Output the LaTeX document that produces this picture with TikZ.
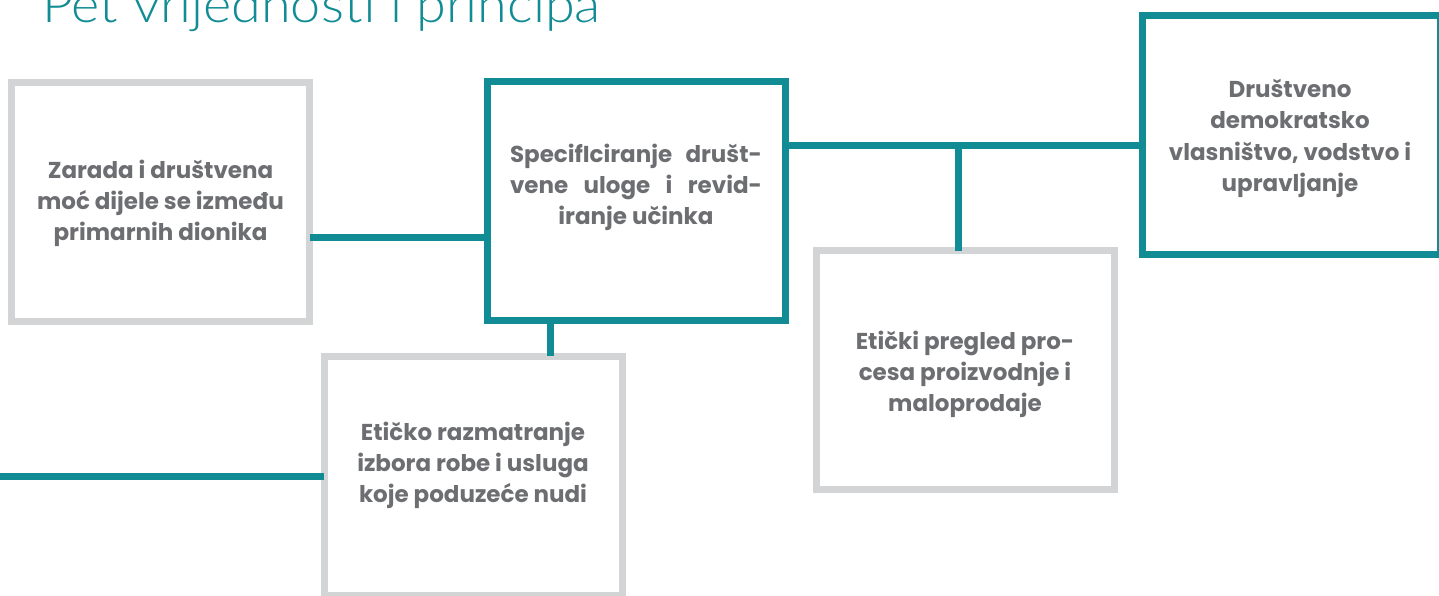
\documentclass[tikz,border=0pt]{standalone}
\usepackage{fontspec}
\IfFontExistsTF{Poppins Bold}{\newfontfamily\boxfont{Poppins Bold}}{\newfontfamily\boxfont{Poppins}[UprightFont=*SemiBold]}
\IfFontExistsTF{Lato Light}{\newfontfamily\titlefont{Lato Light}}{\IfFontExistsTF{Fira Sans Light}{\newfontfamily\titlefont{Fira Sans Light}}{\newfontfamily\titlefont{Lato}}}
\definecolor{teal1}{HTML}{128C94}
\definecolor{boxgray}{HTML}{D3D4D6}
\definecolor{txtgray}{HTML}{6D6E71}
\tikzset{
  box/.style={draw, line width=7pt, minimum width=298pt, minimum height=239pt, inner sep=0pt, outer sep=0pt, fill=white},
  graybox/.style={box, draw=boxgray},
  tealbox/.style={box, draw=teal1},
  link/.style={draw=teal1, line width=7pt},
  label/.style={font=\boxfont\fontsize{23}{31}\selectfont, text=txtgray, align=center, inner sep=0pt, anchor=base}
}
\begin{document}
\begin{tikzpicture}[x=1pt,y=-1pt]
\useasboundingbox (0,0) rectangle (1439,595);
\clip (0,0) rectangle (1439,595);
% title
\node[anchor=base west, inner sep=0pt, text=teal1, font=\titlefont\fontsize{50}{56}\selectfont] (title) at (42,22) {\scalebox{1.08}[1]{Pet vrijednosti i principa}};
% connector end points
\coordinate (jA) at (313,237);
\coordinate (jB) at (484,237);
\coordinate (hL) at (789,145);
\coordinate (hR) at (1142,145);
\coordinate (hM) at (958,145);
\coordinate (dTop) at (958,247);
\coordinate (bBot) at (550,324);
\coordinate (cTop) at (550,353);
\coordinate (lEnd) at (0,476);
\coordinate (cLeft) at (321,476);
% boxes
\node[graybox] (A) at (160.5,201.5) {};
\node[tealbox] (B) at (636.5,201) {};
\node[graybox] (C) at (473,475.5) {};
\node[graybox] (D) at (965,370) {};
\node[tealbox] (E) at (1291.5,135) {};
% links
\draw[link] (A.east |- jA) -- (B.west |- jB);
\draw[link] (B.east |- hL) -- (E.west |- hR);
\draw[link] (hM) -- (D.north -| dTop);
\draw[link] (B.south -| bBot) -- (C.north -| cTop);
\draw[link] (lEnd) -- (C.west |- cLeft);
% texts
\node[label] (tA1) at (160.5,178) {Zarada i društvena};
\node[label] (tA2) at (160.5,209) {moć dijele se između};
\node[label] (tA3) at (160.5,240) {primarnih dionika};
\node[label] (tB1) at (636,162) {\makebox[252pt][s]{SpecifIciranje\hfill društ-}};
\node[label] (tB2) at (636,193) {\makebox[252pt][s]{vene\hfill uloge\hfill i\hfill revid-}};
\node[label] (tB3) at (636,224) {iranje učinka};
\node[label] (tC1) at (473,440) {Etičko razmatranje};
\node[label] (tC2) at (473,471) {izbora robe i usluga};
\node[label] (tC3) at (473,502) {koje poduzeće nudi};
\node[label] (tD1) at (965,349) {Etički pregled pro-};
\node[label] (tD2) at (965,380) {cesa proizvodnje i};
\node[label] (tD3) at (965,411) {maloprodaje};
\node[label] (tE1) at (1290,97) {Društveno};
\node[label] (tE2) at (1290,128) {demokratsko};
\node[label] (tE3) at (1290,160) {vlasništvo, vodstvo i};
\node[label] (tE4) at (1290,191) {upravljanje};
\end{tikzpicture}
\end{document}
